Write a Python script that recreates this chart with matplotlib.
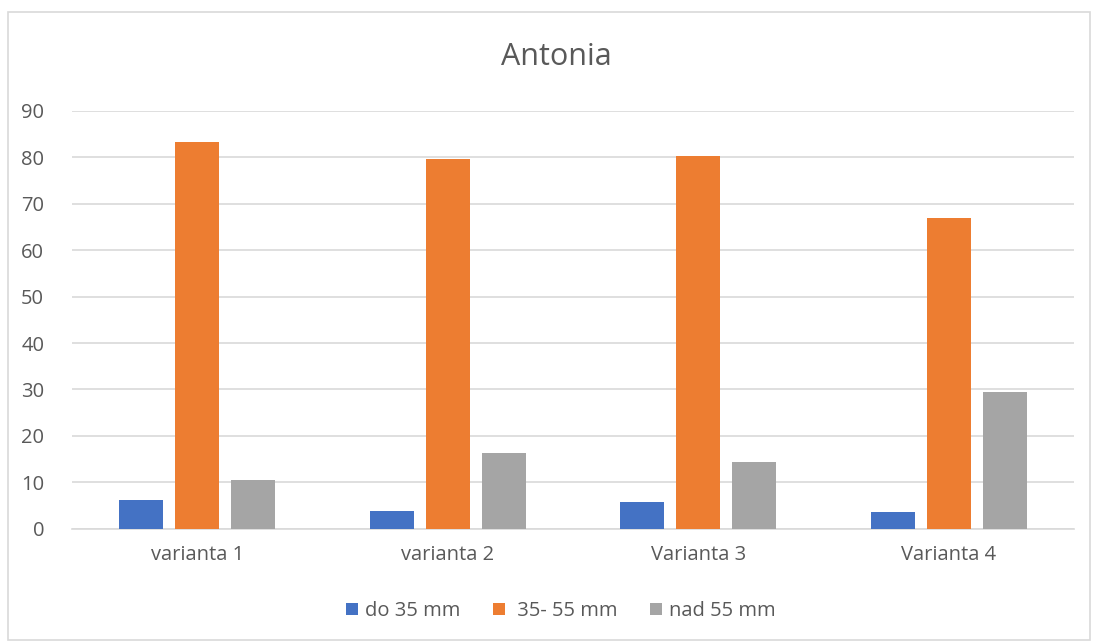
import numpy as np
import matplotlib.pyplot as plt
from matplotlib.patches import Rectangle

categories = ['varianta 1', 'varianta 2', 'Varianta 3', 'Varianta 4']
series_names = ['do 35 mm', ' 35- 55 mm', 'nad 55 mm']
do_35 = [6.1, 3.9, 5.7, 3.5]
mid_35_55 = [83.4, 79.6, 80.4, 67.0]
nad_55 = [10.4, 16.4, 14.3, 29.5]

colors = ['#4472C4', '#ED7D31', '#A5A5A5']
text_col = '#595959'
plt.rcParams['font.family'] = ['Open Sans', 'DejaVu Sans']

fig = plt.figure(figsize=(10.93, 6.44), dpi=100)
fig.patches.append(Rectangle((8 / 1093, 4 / 644), 1082 / 1093, 628 / 644, transform=fig.transFigure,
                             fill=False, edgecolor='#D9D9D9', lw=1.2))
ax = fig.add_axes([72 / 1093, 1 - 528.7 / 644, 1002 / 1093, (528.7 - 111) / 644])

x = np.arange(len(categories))
w = 0.176
off = 0.2235
for i, vals in enumerate([do_35, mid_35_55, nad_55]):
    ax.bar(x + (i - 1) * off, vals, width=w, color=colors[i], label=series_names[i], zorder=3)

ax.set_xlim(-0.5, len(categories) - 0.5)
ax.set_ylim(0, 90)
ax.set_yticks(range(0, 91, 10))
ax.set_xticks(x)
ax.set_xticklabels(categories)
ax.grid(axis='y', color='#D9D9D9', lw=1.2, zorder=0)
for s in ['top', 'right', 'left']:
    ax.spines[s].set_visible(False)
ax.spines['bottom'].set_color('#D9D9D9')
ax.spines['bottom'].set_linewidth(1.2)
ax.tick_params(axis='both', length=0, labelsize=14.5, labelcolor=text_col)
ax.tick_params(axis='y', pad=20)
ax.tick_params(axis='x', pad=12)

fig.text(556 / 1093, 1 - 57 / 644, 'Antonia', ha='center', va='center',
         fontsize=22, color=text_col)

fig.legend(loc='center', bbox_to_anchor=(561 / 1093, 1 - 611 / 644), ncol=3,
           frameon=False, fontsize=14.5, labelcolor=text_col, handlelength=0.6, handleheight=0.6,
           handletextpad=0.35, columnspacing=1.6)

fig.savefig('out.png', dpi=100)
